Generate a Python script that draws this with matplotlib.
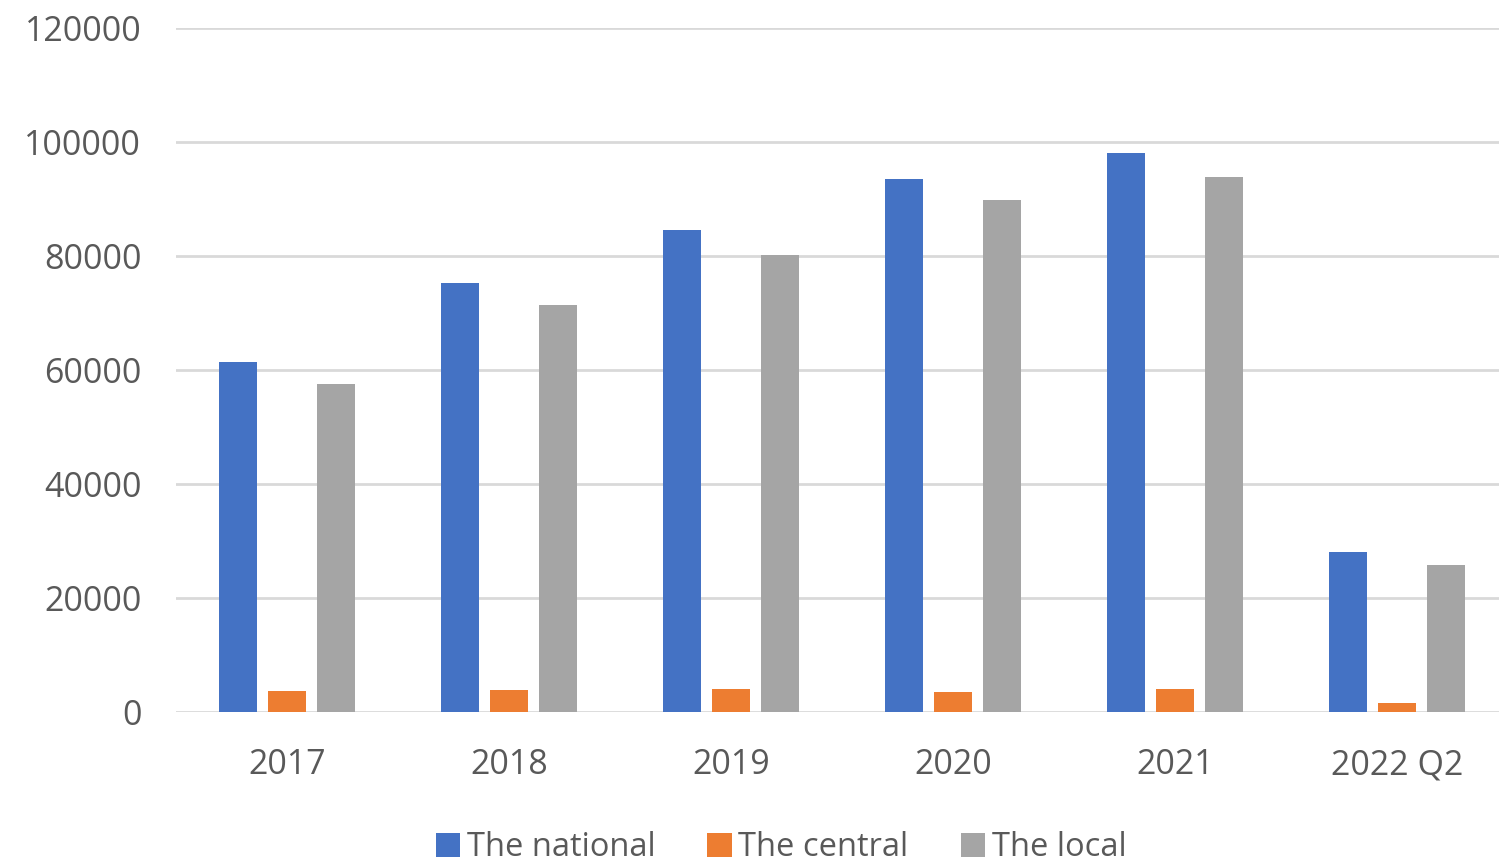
import matplotlib.pyplot as plt
import numpy as np

categories = ['2017', '2018', '2019', '2020', '2021', '2022 Q2']
national = [61400, 75300, 84600, 93500, 98100, 28000]
central = [3700, 3800, 4100, 3500, 4100, 1600]
local = [57500, 71400, 80200, 89800, 93900, 25800]

plt.rcParams['font.family'] = ['Open Sans', 'DejaVu Sans']
text_color = '#595959'

fig = plt.figure(figsize=(14.99, 8.64), dpi=100)
ax = fig.add_axes([176/1499, 1-712/864, 1332/1499, 684/864])

x = np.arange(len(categories))
w = 0.172
off = 0.221
ax.bar(x-off, national, w, color='#4472C4', label='The national', zorder=3)
ax.bar(x, central, w, color='#ED7D31', label='The central', zorder=3)
ax.bar(x+off, local, w, color='#A5A5A5', label='The local', zorder=3)

ax.set_xlim(-0.5, len(categories)-0.5)
ax.set_ylim(0, 120000)
ax.set_yticks(range(0, 120001, 20000))
ax.yaxis.grid(True, color='#D9D9D9', linewidth=2, zorder=0)
ax.set_axisbelow(True)
for s in ax.spines.values():
    s.set_visible(False)
ax.tick_params(axis='both', length=0, labelsize=24.5, labelcolor=text_color)
ax.tick_params(axis='y', pad=25)
ax.tick_params(axis='x', pad=26)
ax.set_xticks(x)
ax.set_xticklabels(categories)

fig.legend(loc='center', bbox_to_anchor=(781/1499, 1-848/864), ncol=3, frameon=False,
           fontsize=23.5, labelcolor=text_color, handlelength=0.75, handleheight=0.75,
           handletextpad=0.2, columnspacing=1.6)

fig.savefig('out.png', dpi=100)
